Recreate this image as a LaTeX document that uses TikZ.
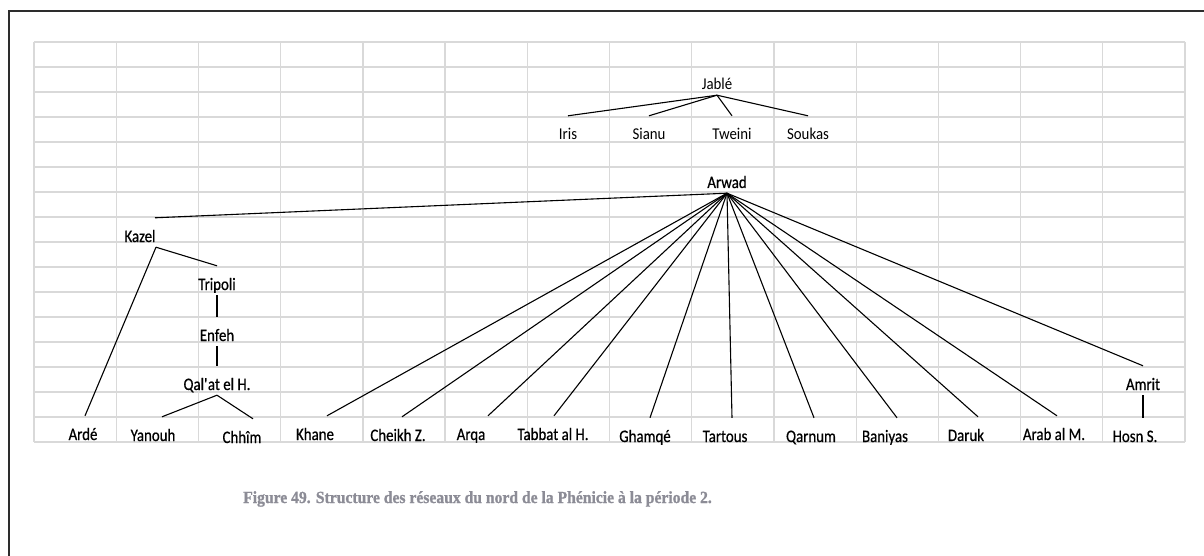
\documentclass[tikz,border=0pt]{standalone}
\usepackage{fontspec}
\setmainfont{Liberation Serif}
\newfontfamily\labfont[FakeStretch=0.9]{Carlito}
\newfontfamily\leaffont[FakeStretch=0.85, FakeBold=0.6]{Carlito}
\newfontfamily\capfont[FakeStretch=0.92, FakeBold=1.2]{Liberation Serif}
\definecolor{gridgray}{RGB}{217,217,217}
\definecolor{framegray}{RGB}{45,45,45}
\definecolor{capgray}{RGB}{140,140,150}

\begin{document}
\begin{tikzpicture}[
    x=1pt, y=-1pt,
    lab/.style={anchor=base, inner sep=0pt, text height=24pt, text depth=5pt, font=\fontsize{16.5}{18}\selectfont\labfont},
    leaf/.style={lab, font=\fontsize{17.5}{19}\selectfont\leaffont},
    link/.style={draw=black, line width=1.1pt},
    gridline/.style={draw=gridgray, line width=1.3pt},
    frame/.style={draw=framegray, line width=2.6pt},
  ]
    \useasboundingbox (0,0) rectangle (1204,556);

    % table grid behind the tree
    \foreach \i in {0,...,14}
      \draw[gridline] ({34+\i*82.214},42) -- ({34+\i*82.214},442);
    \foreach \j in {0,...,16}
      \draw[gridline] (34,{42+\j*25}) -- (1185,{42+\j*25});
    \draw[frame] (9,556) -- (9,11) -- (1204,11);

    % Jable group
    \node[lab] (jable) at (717,90) {Jablé};
    \node[lab] (iris) at (568,140) {Iris};
    \node[lab] (sianu) at (649,140) {Sianu};
    \node[lab] (tweini) at (732,140) {Tweini};
    \node[lab] (soukas) at (808,140) {Soukas};

    % Arwad group
    \node[leaf] (arwad) at (727,188) {Arwad};
    \node[leaf] (kazel) at (140,242) {Kazel};
    \node[leaf] (tripoli) at (217,290) {Tripoli};
    \node[leaf] (enfeh) at (217,341) {Enfeh};
    \node[leaf] (qalat) at (217,390) {Qal\textquotesingle at el H.};
    \node[leaf] (amrit) at (1143,390) {Amrit};

    \node[leaf] (arde) at (83,440) {Ardé};
    \node[leaf] (yanouh) at (153,441) {Yanouh};
    \node[leaf] (chhim) at (242,443) {Chhîm};
    \node[leaf] (khane) at (315,440) {Khane};
    \node[leaf] (cheikh) at (398,441) {Cheikh Z.};
    \node[leaf] (arqa) at (471,440) {Arqa};
    \node[leaf] (tabbat) at (553,440) {Tabbat al H.};
    \node[leaf] (ghamqe) at (645,442) {Ghamqé};
    \node[leaf] (tartous) at (725,442) {Tartous};
    \node[leaf] (qarnum) at (811,442) {Qarnum};
    \node[leaf] (baniyas) at (885,442) {Baniyas};
    \node[leaf] (daruk) at (966,441) {Daruk};
    \node[leaf] (arab) at (1054,440) {Arab al M.};
    \node[leaf] (hosn) at (1135,442) {Hosn S.};

    \node[anchor=base west, inner sep=0pt, text=capgray, font=\fontsize{17}{20}\selectfont\capfont\bfseries] (caption) at (243,503) {Figure 49. Structure des réseaux du nord de la Phénicie à la période 2.};

    \draw[link] (jable.south) -- (iris.north);
    \draw[link] (jable.south) -- (sianu.north);
    \draw[link] (jable.south) -- (tweini.north);
    \draw[link] (jable.south) -- (soukas.north);

    \draw[link] (arwad.south) -- ([xshift=15pt]kazel.north);
    \draw[link] ([xshift=16pt]kazel.south) -- (tripoli.north);
    \draw[link] ([xshift=16pt]kazel.south) -- ([xshift=2pt]arde.north);
    \draw[link] (tripoli.south) -- (enfeh.north);
    \draw[link] (enfeh.south) -- (qalat.north);
    \draw[link] (qalat.south) -- ([xshift=9pt]yanouh.north);
    \draw[link] (qalat.south) -- ([xshift=11pt]chhim.north);

    \draw[link] (arwad.south) -- ([xshift=12pt]khane.north);
    \draw[link] (arwad.south) -- ([xshift=4pt]cheikh.north);
    \draw[link] (arwad.south) -- ([xshift=17pt]arqa.north);
    \draw[link] (arwad.south) -- ([xshift=1pt]tabbat.north);
    \draw[link] (arwad.south) -- ([xshift=5pt]ghamqe.north);
    \draw[link] (arwad.south) -- ([xshift=7pt]tartous.north);
    \draw[link] (arwad.south) -- ([xshift=3pt]qarnum.north);
    \draw[link] (arwad.south) -- ([xshift=12pt]baniyas.north);
    \draw[link] (arwad.south) -- ([xshift=12pt]daruk.north);
    \draw[link] (arwad.south) -- ([xshift=3pt]arab.north);
    \draw[link] (arwad.south) -- (amrit.north);
    \draw[link] (amrit.south) -- ([xshift=8pt]hosn.north);
\end{tikzpicture}
\end{document}
